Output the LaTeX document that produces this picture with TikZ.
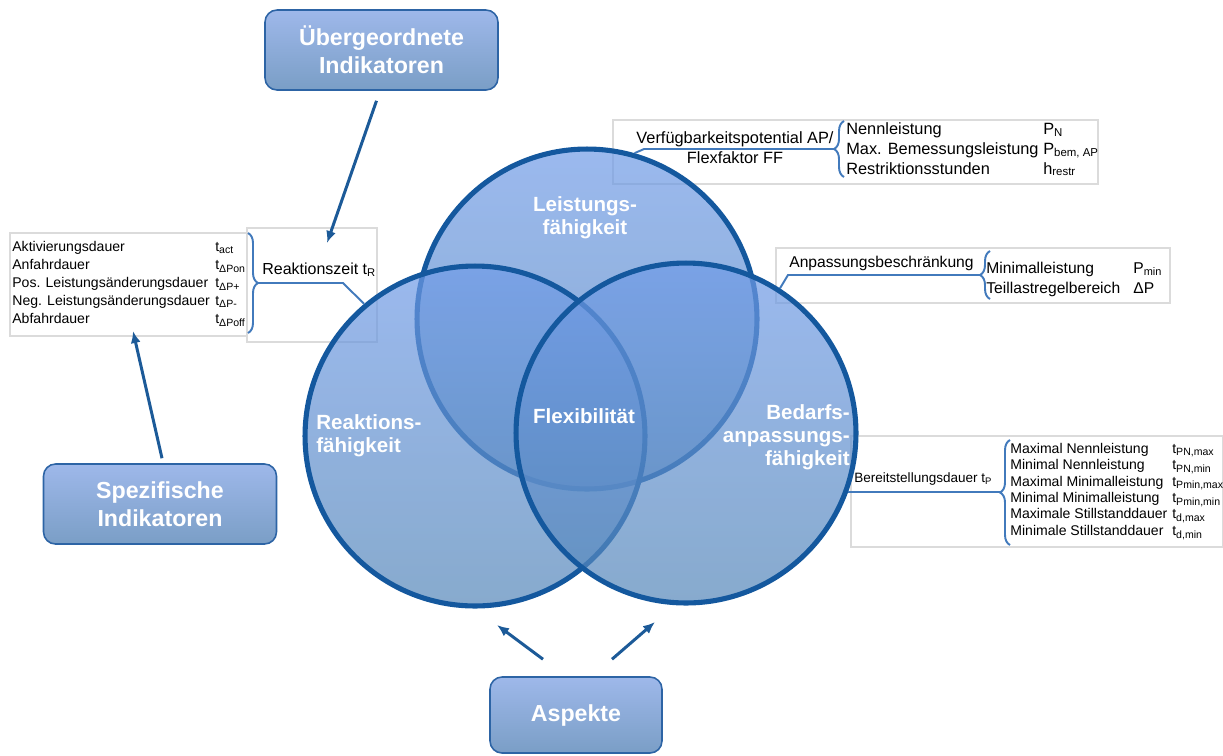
\documentclass[tikz,border=0pt]{standalone}
\usepackage{fontspec}
\setmainfont{Liberation Sans}
\usepackage{tikz}
\usetikzlibrary{arrows.meta,decorations.pathreplacing,calc}

\definecolor{ringblue}{RGB}{20,88,158}
\definecolor{circtop}{RGB}{112,155,231}
\definecolor{circbot}{RGB}{84,134,184}
\definecolor{boxtop}{RGB}{158,184,234}
\definecolor{boxbot}{RGB}{122,158,198}
\definecolor{boxedge}{RGB}{45,100,165}
\definecolor{bracblue}{RGB}{66,122,188}
\definecolor{arrblue}{RGB}{28,90,152}

\begin{document}
\begin{tikzpicture}[x=0.02cm, y=-0.02cm,
  ring/.style={circle, draw=ringblue, line width=2.9pt, minimum size=6.8cm, inner sep=0pt,
    top color=circtop, bottom color=circbot, fill opacity=0.7},
  ringtext/.style={text=white, font=\bfseries\fontsize{11.7}{13.1}\selectfont, inner sep=0pt},
  headbox/.style={draw=boxedge, line width=0.9pt, rounded corners=0.24cm, top color=boxtop,
    bottom color=boxbot, text=white, align=center, minimum width=4.66cm, minimum height=1.6cm,
    font=\bfseries\fontsize{13.2}{15.9}\selectfont},
  tabframe/.style={draw=black!14, line width=0.6pt, fill=white},
  link/.style={draw=bracblue, line width=1.1pt},
  curly/.style={link, decorate, decoration={brace, amplitude=0.2cm}},
  arr/.style={draw=arrblue, line width=1.7pt, -{Latex[length=2.4mm,width=2mm]}}]
\useasboundingbox (0,0) rectangle (1223,755);

% frames of the indicator tables
\draw[tabframe] (10,233) rectangle (258,336);
\draw[tabframe] (247,228) rectangle (377,342);
\draw[tabframe] (613,120) rectangle (1098,184);
\draw[tabframe] (776,248) rectangle (1170,303);
\draw[tabframe] (851,436) rectangle (1223,547);

% the three aspects
\node[ring] (tc) at (587,319) {};
\node[ring] (lc) at (475,436) {};
\node[ring] (rc) at (686,433) {};

\node[ringtext, align=center] (leist) at (585,218) {Leistungs-\\fähigkeit};
\node[ringtext, align=left, anchor=west] (reakt) at (316,436) {Reaktions-\\fähigkeit};
\node[ringtext] (flex) at (584,416) {Flexibilität};
\node[ringtext, align=right, anchor=east] (bedarf) at (850,437) {Bedarfs-\\anpassungs-\\fähigkeit};

% Reaktionszeit
\node[anchor=west, inner sep=0pt, font=\fontsize{9.1}{11}\selectfont] (rzt) at (262,270) {Reaktionszeit t\textsubscript{R}};
\node[anchor=west, inner sep=0pt, font=\fontsize{8}{10.2}\selectfont] (rztlist) at (12,284) {%
\begin{tabular}{@{}p{4.06cm}@{}l@{}}
Aktivierungsdauer & t\textsubscript{act}\\
Anfahrdauer & t\textsubscript{ΔPon}\\
Pos. Leistungsänderungsdauer & t\textsubscript{ΔP+}\\
Neg. Leistungsänderungsdauer & t\textsubscript{ΔP-}\\
Abfahrdauer & t\textsubscript{ΔPoff}
\end{tabular}};
\draw[curly] (248,233) -- (248,333);
\coordinate (tipR) at (258,283);
\draw[link] (tipR) -- ++(85,0) -- (lc.130);

% Verfuegbarkeitspotential
\node[align=center, inner sep=0pt, font=\fontsize{9.3}{11.4}\selectfont] (vfp) at (735,148) {Verfügbarkeitspotential AP/\\Flexfaktor FF};
\node[anchor=west, inner sep=0pt, font=\fontsize{9.3}{11.38}\selectfont] (vfplist) at (846,150) {%
\begin{tabular}{@{}p{3.94cm}@{}l@{}}
Nennleistung & P\textsubscript{N}\\
Max. Bemessungsleistung & P\textsubscript{bem, AP}\\
Restriktionsstunden & h\textsubscript{restr}
\end{tabular}};
\draw[curly] (844,177) -- (844,121);
\coordinate (tipV) at (834,149);
\draw[link] (tc.74) -- ($(tipV)+(-190,0)$) -- (tipV);

% Anpassungsbeschraenkung
\node[anchor=west, inner sep=0pt, font=\fontsize{8.9}{11}\selectfont] (apb) at (789,263) {Anpassungsbeschränkung};
\node[anchor=west, inner sep=0pt, font=\fontsize{8.9}{11.38}\selectfont] (apblist) at (986,279) {%
\begin{tabular}{@{}p{2.94cm}@{}l@{}}
Minimalleistung & P\textsubscript{min}\\
Teillastregelbereich & ΔP
\end{tabular}};
\draw[curly] (990,299) -- (990,251);
\coordinate (tipA) at (980,275);
\draw[link] (rc.57) -- ($(tipA)+(-192,0)$) -- (tipA);

% Bereitstellungsdauer
\node[anchor=west, inner sep=0pt, font=\fontsize{7.7}{9}\selectfont] (bsd) at (854,479) {Bereitstellungsdauer t\textsubscript{P}};
\node[anchor=west, inner sep=0pt, font=\fontsize{8}{9.33}\selectfont] (bsdlist) at (1010,491) {%
\begin{tabular}{@{}p{3.24cm}@{}l@{}}
Maximal Nennleistung & t\textsubscript{PN,max}\\
Minimal Nennleistung & t\textsubscript{PN,min}\\
Maximal Minimalleistung & t\textsubscript{Pmin,max}\\
Minimal Minimalleistung & t\textsubscript{Pmin,min}\\
Maximale Stillstanddauer & t\textsubscript{d,max}\\
Minimale Stillstanddauer & t\textsubscript{d,min}
\end{tabular}};
\draw[curly] (1010,545) -- (1010,440);
\coordinate (tipB) at (1000,492);
\draw[link] (rc.-20) -- (tipB);

% headings
\node[headbox] (ueber) at (381.5,50) {Übergeordnete\\Indikatoren};
\node[headbox] (spez) at (160,504) {Spezifische\\Indikatoren};
\node[headbox, minimum width=3.44cm, minimum height=1.52cm] (asp) at (576,715) {Aspekte};

\coordinate (ueberend) at (327,243);
\coordinate (spezend) at (133,331);
\coordinate (aspendL) at (497,625);
\coordinate (aspendR) at (655,622);
\draw[arr] ([shift={(-5,10)}]ueber.south) -- (ueberend);
\draw[arr] ([shift={(2,-5)}]spez.north) -- (spezend);
\draw[arr] ([shift={(-33,-17)}]asp.north) -- (aspendL);
\draw[arr] ([shift={(36,-17)}]asp.north) -- (aspendR);
\end{tikzpicture}
\end{document}
